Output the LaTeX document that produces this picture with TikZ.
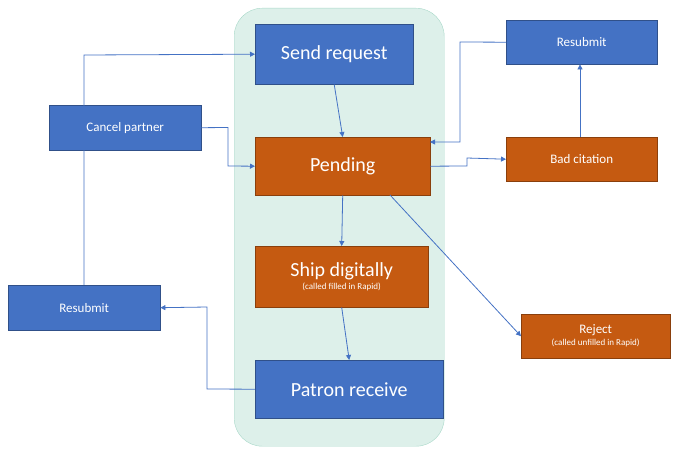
\documentclass[tikz,border=0pt]{standalone}
\usepackage{fontspec}
\setmainfont{Carlito}
\usetikzlibrary{arrows.meta}
\definecolor{bl}{HTML}{4472C4}
\definecolor{og}{HTML}{C55A11}
\definecolor{bg}{HTML}{DDF0EA}
\definecolor{bgb}{HTML}{A8D8C8}
\begin{document}
\begin{tikzpicture}[x=1pt,y=-1pt,
  box/.style={draw=#1!70!black,fill=#1,text=white,inner sep=0pt,align=center},
  big/.style={font=\fontsize{20}{22}\selectfont},
  sm/.style={font=\fontsize{13}{15}\selectfont},
  arr/.style={draw=bl,line width=0.8pt,-{Triangle[length=5pt,width=5pt]}}]
\useasboundingbox (0,0) rectangle (679,452);
\node[draw=bgb,fill=bg,rounded corners=28pt,minimum width=210pt,minimum height=438pt,anchor=north west] (bgr) at (234,8) {};
\node[box=bl,big,minimum width=158pt,minimum height=60pt,anchor=north west] (send) at (255,24) {Send request};
\node[box=og,big,minimum width=175pt,minimum height=58pt,anchor=north west] (pend) at (255,137) {Pending};
\node[box=og,minimum width=173pt,minimum height=61pt,anchor=north west] (ship) at (255,246) {{\fontsize{20}{22}\selectfont Ship digitally}\\[1pt]{\fontsize{9}{10}\selectfont (called filled in Rapid)}};
\node[box=bl,big,minimum width=188pt,minimum height=58pt,anchor=north west] (pat) at (255,360) {Patron receive};
\node[box=bl,sm,minimum width=152pt,minimum height=45pt,anchor=north west] (cancel) at (49,105) {Cancel partner};
\node[box=bl,sm,minimum width=152pt,minimum height=45pt,anchor=north west] (resl) at (8,285) {Resubmit};
\node[box=bl,sm,minimum width=151pt,minimum height=44pt,anchor=north west] (resr) at (506,20) {Resubmit};
\node[box=og,sm,minimum width=151pt,minimum height=44pt,anchor=north west] (bad) at (506,137) {Bad citation};
\node[box=og,minimum width=149pt,minimum height=44pt,anchor=north west] (rej) at (521,314) {{\fontsize{13}{15}\selectfont Reject}\\{\fontsize{9}{10}\selectfont (called unfilled in Rapid)}};
\coordinate (p1) at (390,195);
\draw[arr] (send.south) -- (pend.north);
\draw[arr] (pend.south) -- (ship.north);
\draw[arr] (ship.south) -- (pat.north);
\draw[arr] (pat.west) -- (207,389) -- (207,307) -- (resl.east);
\draw[arr] (resl.north -| 84,0) -- (84,55) -- (send.west);
\draw[arr] (cancel.east) -- (228,127.5) -- (228,166) -- (pend.west);
\draw[arr] (pend.east) -- (467,166) -- (467,158) -- (bad.west);
\draw[arr] (bad.north -| 580,0) -- (resr.south -| 580,0);
\draw[arr] (resr.west) -- (460,42) -- (460,142) -- (430,142);
\draw[arr] (p1) -- (rej.west);
\end{tikzpicture}
\end{document}
